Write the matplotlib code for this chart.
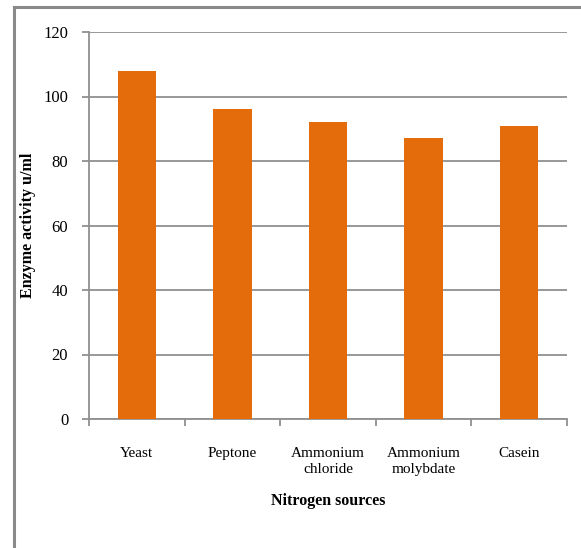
import matplotlib
matplotlib.use("Agg")
import matplotlib.pyplot as plt
from matplotlib.lines import Line2D
import numpy as np

categories = ["Yeast", "Peptone", "Ammonium\nchloride", "Ammonium\nmolybdate", "Casein"]
activity = [108, 96, 92, 87, 91]
y_ticks = [0, 20, 40, 60, 80, 100, 120]

W, H = 581, 548
fig = plt.figure(figsize=(W / 100, H / 100), dpi=100)
plt.rcParams["font.family"] = ["Liberation Serif", "DejaVu Serif"]

ax = fig.add_axes([89 / W, 1 - 419 / H, (567 - 89) / W, (419 - 32) / H])

grey = "#909090"
x = np.arange(len(categories))
ax.bar(x, activity, width=0.40, color="#E46C0A", zorder=3)

ax.set_xlim(-0.5, len(categories) - 0.5)
ax.set_ylim(0, 120)
ax.set_yticks(y_ticks)
ax.yaxis.grid(True, color=grey, linewidth=1.3, zorder=0)
ax.set_axisbelow(True)

ax.set_xticks(x)
ax.set_xticklabels(categories, fontsize=11, linespacing=1.3)
ax.tick_params(axis="x", which="major", length=0, pad=20)
ax.set_xticks(np.arange(len(categories) + 1) - 0.5, minor=True)
ax.tick_params(axis="x", which="minor", length=5, width=1.3, color=grey, direction="out")
ax.tick_params(axis="y", length=5, width=1.3, color=grey, pad=10, labelsize=12)

for s in ["top", "right"]:
    ax.spines[s].set_visible(False)
for s in ["left", "bottom"]:
    ax.spines[s].set_color(grey)
    ax.spines[s].set_linewidth(1.3)

ax.set_ylabel("Enzyme activity u/ml", fontsize=11.5, fontweight="bold")
ax.yaxis.set_label_coords((28 - 89) / (567 - 89), 0.5)
ax.set_xlabel("Nitrogen sources", fontsize=11.5, fontweight="bold")
ax.xaxis.set_label_coords(0.5, -(501 - 419) / (419 - 32))
ax.xaxis.label.set_va("center")
ax.yaxis.label.set_va("center")

# outer frame (left and top edges)
fig.add_artist(Line2D([14 / W, 14 / W], [0, 1 - 6.5 / H], transform=fig.transFigure,
                      color="#8a8a8a", linewidth=2.2))
fig.add_artist(Line2D([14 / W, 1], [1 - 6.5 / H, 1 - 6.5 / H], transform=fig.transFigure,
                      color="#8a8a8a", linewidth=2.2))

fig.savefig("out.png", dpi=100)
